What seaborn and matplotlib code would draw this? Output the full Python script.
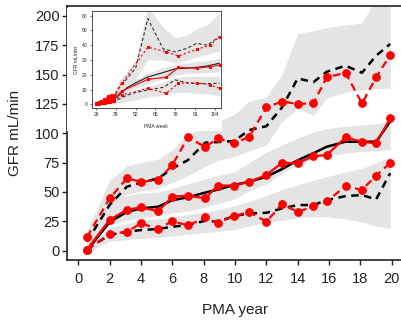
import matplotlib
matplotlib.use("Agg")
import matplotlib.pyplot as plt
import seaborn as sns

# ---- main panel (PMA in years) ----
pma_year = [0.55, 2.0, 3.1, 4.0, 5.1, 6.0, 7.0, 8.1, 8.9, 9.95,
            10.9, 12.0, 13.0, 14.0, 15.0, 15.85, 17.05, 18.1, 19.0, 19.9]

obs_upper = [11.5, 44.6, 61.6, 58.7, 60.2, 73, 96.5, 88.3, 95.7, 91.4,
             97, 122, 127, 125, 125.5, 147.6, 151.5, 125.4, 147.6, 166.5]
obs_median = [1.0, 26.3, 34.9, 36.9, 33.6, 46, 47, 44.6, 55.5, 55.5,
              58.7, 64.4, 75, 74.4, 80.6, 81.4, 96.5, 92.8, 91.4, 112.7]
obs_lower = [0.5, 14.2, 16.2, 23.3, 18.5, 25.3, 21.5, 28.3, 23.8, 29.5,
             33.1, 24.7, 39.7, 33, 37.8, 42, 55, 51.7, 64, 74.7]

pred_upper = [7.7, 39, 54.5, 58, 61.6, 70, 77.2, 92, 92.5, 93.4,
              102.7, 106, 122, 146.7, 143.5, 152.3, 157.5, 151.5, 166, 176]
pred_median = [0.0, 24.5, 33, 36, 37.5, 43, 45.5, 49.5, 52, 56,
               58.7, 63, 69.5, 77, 83, 88.5, 92.8, 92.8, 92.8, 110]
pred_lower = [1.5, 13.4, 16.2, 17.6, 18.5, 20.4, 21.9, 25.5, 24.7, 29.5,
              31.8, 32.3, 36, 38.9, 38.9, 43.1, 46.5, 47.4, 43.7, 66]

band_up_hi = [17, 60, 72, 75, 78, 86, 99, 106, 110, 116,
              127, 131, 150, 185, 187, 190, 192, 194, 215, 215]
band_up_lo = [3.5, 38, 48, 51, 53, 58, 64, 72, 77, 80,
              85, 90, 110, 121, 115, 130, 135, 137, 138, 138]
band_med_hi = [12, 42, 47, 49, 50, 53, 57, 61, 64, 67,
               75, 84, 90, 96, 101, 104, 106, 107, 108, 110]
band_med_lo = [0.5, 22, 26, 28, 30, 32, 34, 37, 40, 44,
               51, 57, 66, 73, 78, 81, 83, 84.5, 85, 86]
band_low_hi = [2, 20, 23, 26, 27, 28.5, 31, 33, 35, 38,
               42, 47, 52, 56, 60, 63, 67, 70, 75, 80]
band_low_lo = [-2, 8, 9.5, 10.5, 11.5, 12.5, 14, 15.5, 16.5, 18,
               21, 24, 26, 28, 29, 29, 27, 24.5, 21, 19]

year_ticks = [0, 2, 4, 6, 8, 10, 12, 14, 16, 18, 20]
gfr_ticks = [0, 25, 50, 75, 100, 125, 150, 175, 200]

# ---- inset (PMA in weeks) ----
pma_week = [26, 30, 34, 38, 41, 46, 52, 60, 70, 78, 86, 92, 99, 107]
wk_pred_upper = [1, 1.8, 3, 5, 11, 17, 24.4, 58, 37.5, 35.5, 38, 41.3, 40, 46]
wk_pred_median = [0.5, 1.2, 2.2, 3.5, 6, 11, 14.5, 18.5, 21.5, 24, 24.5, 25, 26, 27.8]
wk_pred_lower = [0.3, 0.8, 1.2, 2, 3.5, 6, 8, 9.7, 11.5, 16.5, 14.5, 14, 14, 14.2]

wk_band_up_hi = [2, 3.5, 5.5, 9, 16, 22, 30, 66, 52, 45, 47, 51, 54, 62]
wk_band_up_lo = [0.5, 1, 2, 3, 6, 11, 17, 30, 30, 28, 30, 32, 34, 36]
wk_band_med_hi = [1, 2, 3, 5, 8, 13, 17, 21, 25, 27, 28, 29, 29.5, 31]
wk_band_med_lo = [0, 0.5, 1, 2, 4, 8, 11, 14, 17, 20, 21, 21, 21.5, 22]
wk_band_low_hi = [0.5, 1, 1.5, 2.5, 4, 7, 9, 12, 15, 18, 19, 19, 19, 19]
wk_band_low_lo = [-1, -0.5, 0, 0.5, 1, 2, 3, 5, 6, 8, 8, 7.5, 7, 6]

obs_week = [26, 27, 28, 29, 30, 31, 32, 33, 34, 35, 36, 37, 38,
            43, 60, 72, 80, 92, 101, 107]
wk_obs_upper = [0.8, 1.2, 1.5, 2.2, 2.5, 3.5, 3.0, 4.5, 5.5, 4.8, 6.5, 5.5, 6.3,
                14.5, 38.6, 35.6, 32.7, 37.2, 40.1, 45.8]
wk_obs_median = [0.3, 0.6, 0.8, 1.0, 1.5, 1.3, 2.0, 2.5, 2.2, 3.0, 3.8, 3.2, 4.5,
                 9, 16.9, 18.3, 25, 24.4, 25.5, 26.6]
wk_obs_lower = [0.1, 0.3, 0.4, 0.6, 0.8, 1.0, 1.2, 1.4, 1.6, 1.8, 2.0, 2.2, 2.5,
                6.3, 10.8, 7.4, 14.2, 14.6, 13.1, 10.8]

week_ticks = [26, 39, 52, 65, 78, 91, 104]
wk_gfr_ticks = [0, 10, 20, 30, 40, 50, 60]

BAND = '#e4e4e4'

sns.set_theme(style="ticks")
plt.rcParams['font.family'] = ['Liberation Sans', 'DejaVu Sans']

fig = plt.figure(figsize=(4.01, 3.22), dpi=100)
ax = fig.add_axes([0.1663, 0.1925, 0.8337, 0.7888])

for lo, hi in [(band_up_lo, band_up_hi), (band_med_lo, band_med_hi),
               (band_low_lo, band_low_hi)]:
    ax.fill_between(pma_year, lo, hi, color=BAND, linewidth=0, zorder=1)

sns.lineplot(x=pma_year, y=pred_median, ax=ax, color='black', lw=1.8, zorder=3)
for y in (pred_upper, pred_lower):
    sns.lineplot(x=pma_year, y=y, ax=ax, color='black', lw=1.8,
                 linestyle=(0, (3, 2.2)), zorder=3)

sns.lineplot(x=pma_year, y=obs_median, ax=ax, color='red', lw=1.6,
             marker='o', markersize=5.5, markeredgecolor='red', zorder=4)
for y in (obs_upper, obs_lower):
    sns.lineplot(x=pma_year, y=y, ax=ax, color='red', lw=1.6,
                 linestyle=(0, (3.5, 2.2)), marker='o', markersize=5.5,
                 markeredgecolor='red', zorder=4)

ax.set_xlim(-0.74, 20.59)
ax.set_ylim(-7.9, 208.3)
ax.set_xticks(year_ticks)
ax.set_yticks(gfr_ticks)
ax.tick_params(labelsize=10.5, length=3.5, width=1.0, color='#222222',
               labelcolor='#222222')
ax.tick_params(axis='x', pad=5)
ax.tick_params(axis='y', pad=1.5)
ax.spines['right'].set_visible(False)
for s in ('left', 'bottom', 'top'):
    ax.spines[s].set_linewidth(1.2)
    ax.spines[s].set_color('#222222')
ax.set_xlabel('PMA year', fontsize=11, color='#222222')
ax.set_ylabel('GFR mL/min', fontsize=11, color='#222222')
ax.xaxis.set_label_coords(0.503, -0.17)
ax.yaxis.set_label_coords(-0.135, 0.5)

# white area behind the inset
bg = fig.add_axes([0.1683, 0.5932, 0.3853, 0.382])
bg.set_xticks([])
bg.set_yticks([])
for s in bg.spines.values():
    s.set_visible(False)
bg.set_facecolor('white')

ins = fig.add_axes([0.2287, 0.6646, 0.3212, 0.2997])
for lo, hi in [(wk_band_up_lo, wk_band_up_hi), (wk_band_med_lo, wk_band_med_hi),
               (wk_band_low_lo, wk_band_low_hi)]:
    ins.fill_between(pma_week, lo, hi, color=BAND, linewidth=0, zorder=1)

sns.lineplot(x=pma_week, y=wk_pred_median, ax=ins, color='#222222', lw=0.8, zorder=3)
for y in (wk_pred_upper, wk_pred_lower):
    sns.lineplot(x=pma_week, y=y, ax=ins, color='#333333', lw=0.8,
                 linestyle=(0, (3, 2)), zorder=3)

sns.lineplot(x=obs_week, y=wk_obs_median, ax=ins, color='red', lw=0.8,
             marker='s', markersize=1.6, markeredgecolor='red', zorder=4)
for y in (wk_obs_upper, wk_obs_lower):
    sns.lineplot(x=obs_week, y=y, ax=ins, color='red', lw=0.8,
                 linestyle=(0, (2, 2)), marker='s', markersize=1.6,
                 markeredgecolor='red', zorder=4)

ins.set_xlim(23.2, 107.6)
ins.set_ylim(-2.5, 62.8)
ins.set_xticks(week_ticks)
ins.set_yticks(wk_gfr_ticks)
ins.tick_params(labelsize=3.6, length=1.5, width=0.5, pad=1.5, color='#333333')
for s in ins.spines.values():
    s.set_linewidth(0.6)
    s.set_color('#333333')
ins.set_xlabel('PMA week', fontsize=3.6, labelpad=5)
ins.set_ylabel('GFR mL/min', fontsize=3.6, labelpad=2)

fig.savefig('out.png', dpi=100)
plt.close(fig)
